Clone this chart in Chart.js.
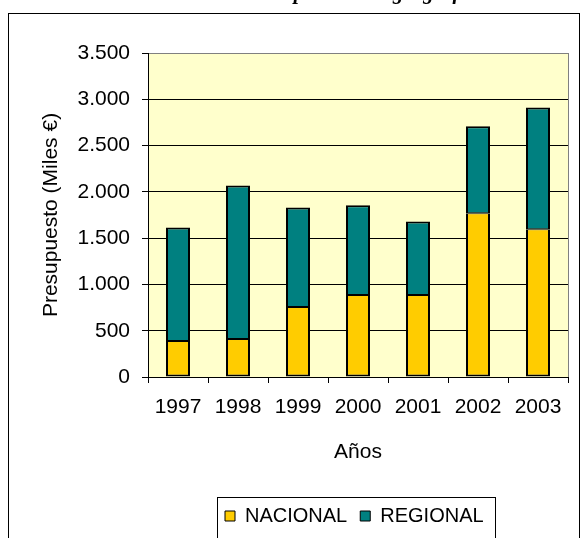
<!DOCTYPE html>
<html>
<head>
<meta charset="utf-8">
<script src="https://cdn.jsdelivr.net/npm/chart.js@4.4.0/dist/chart.umd.min.js"></script>
<style>
  body { margin: 0; background: #fff; }
  #wrap { position: relative; width: 582px; height: 538px; overflow: hidden; }
  #titulo {
    position: absolute; left: 180px; top: -18px; z-index: 2;
    font: italic bold 21px "Liberation Serif", serif; line-height: 21px;
    white-space: nowrap; color: #000;
  }
  canvas { position: absolute; left: 0; top: 0; }
</style>
</head>
<body>
<div id="wrap">
  <div id="titulo">Distribución por ámbito geográfico</div>
  <canvas id="grafico" width="582" height="538"></canvas>
</div>
<script>
// datos (miles de euros)
const anios = ["1997", "1998", "1999", "2000", "2001", "2002", "2003"];
const nacional = [390, 410, 755, 885, 885, 1770, 1595];
const regional = [1225, 1660, 1075, 970, 795, 940, 1315];
const ejeMax = 3500;
const ejePaso = 500;

const fuente = "'Liberation Sans', Arial, sans-serif";

// 3500 -> "3.500"
function miles(v) {
  return String(v).replace(/\B(?=(\d{3})+(?!\d))/g, ".");
}

const marco = {
  id: "marco",
  beforeDraw(chart) {
    const { ctx, chartArea: a } = chart;
    ctx.save();
    ctx.fillStyle = "#fff";
    ctx.fillRect(0, 0, chart.width, chart.height);
    ctx.strokeStyle = "#000";
    ctx.lineWidth = 1;
    ctx.strokeRect(8.5, 13.5, 571, 600);
    ctx.fillStyle = "#FFFFCC";
    ctx.fillRect(a.left, a.top, a.right - a.left, a.bottom - a.top);
    ctx.restore();
  },
  afterLayout(chart) {
    // leyenda desplazada como en el original
    chart.legend.left = 212;
  },
  beforeDatasetsDraw(chart) {
    const { ctx, chartArea: a } = chart;
    ctx.save();
    ctx.strokeStyle = "#808080";
    ctx.lineWidth = 1;
    ctx.beginPath();
    ctx.moveTo(a.right + 0.5, a.top);
    ctx.lineTo(a.right + 0.5, a.bottom);
    ctx.stroke();
    ctx.restore();
  },
  afterDraw(chart) {
    const ctx = chart.ctx;
    ctx.save();
    ctx.strokeStyle = "#000";
    ctx.lineWidth = 1;
    ctx.strokeRect(217.5, 497.5, 278, 100);
    ctx.restore();
  }
};

new Chart(document.getElementById("grafico"), {
  type: "bar",
  data: {
    labels: anios,
    datasets: [
      {
        label: "NACIONAL",
        data: nacional,
        backgroundColor: "#FFCC00",
        borderColor: "#000",
        borderWidth: { top: 1, left: 2, right: 2, bottom: 2 },
        borderSkipped: false,
        barPercentage: 0.4,
        categoryPercentage: 1
      },
      {
        label: "REGIONAL",
        data: regional,
        backgroundColor: "#008080",
        borderColor: "#000",
        borderWidth: { top: 2, left: 2, right: 2, bottom: 1 },
        borderSkipped: false,
        barPercentage: 0.4,
        categoryPercentage: 1
      }
    ]
  },
  options: {
    responsive: false,
    animation: false,
    devicePixelRatio: 1,
    layout: { padding: { top: 53, right: 14, bottom: 2, left: 0 } },
    plugins: {
      tooltip: { enabled: false },
      legend: {
        position: "bottom",
        align: "start",
        labels: {
          color: "#000",
          font: { family: fuente, size: 20 },
          boxWidth: 10,
          boxHeight: 10,
          padding: 13,
          generateLabels: (chart) =>
            Chart.defaults.plugins.legend.labels.generateLabels(chart).map(l => ({
              ...l, lineWidth: 1, strokeStyle: "#000"
            }))
        }
      }
    },
    scales: {
      x: {
        stacked: true,
        offset: true,
        grid: { offset: true, drawOnChartArea: false, drawTicks: true, tickLength: 6, color: "#000" },
        border: { color: "#000", width: 1 },
        ticks: { color: "#000", font: { family: fuente, size: 21 }, padding: 12, maxRotation: 0, autoSkip: false },
        title: {
          display: true, text: "Años", color: "#000",
          font: { family: fuente, size: 21 }, padding: { top: 0, bottom: 28 }
        },
        afterFit(s) { s.height = 116; }
      },
      y: {
        stacked: true,
        min: 0,
        max: ejeMax,
        grid: {
          color: c => (c.tick && c.tick.value === ejeMax ? "#808080" : "#000"),
          tickColor: "#000",
          tickLength: 6,
          lineWidth: 1
        },
        border: { color: "#000", width: 1 },
        ticks: {
          stepSize: ejePaso, color: "#000", padding: 12,
          font: { family: fuente, size: 21 },
          callback: v => miles(v)
        },
        title: {
          display: true, text: "Presupuesto (Miles €)", color: "#000",
          font: { family: fuente, size: 21 }, padding: { top: 39, bottom: 0 }
        },
        afterFit(s) { s.width = 148; }
      }
    }
  },
  plugins: [marco]
});
</script>
</body>
</html>
